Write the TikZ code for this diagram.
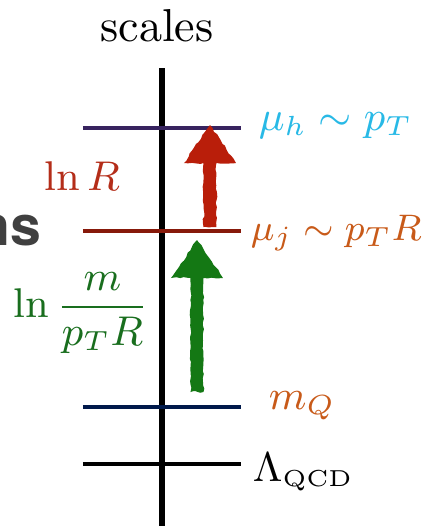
\documentclass[tikz,border=0pt]{standalone}
\usepackage{fontspec}
\usepackage{amsmath}
\newfontfamily\heros{TeX Gyre Heros}
\usetikzlibrary{decorations.pathmorphing}

\definecolor{hardblue}{RGB}{40,185,230}
\definecolor{jetorange}{RGB}{200,90,25}
\definecolor{lnred}{RGB}{180,45,25}
\definecolor{lngreen}{RGB}{25,110,30}
\definecolor{arrred}{RGB}{185,30,10}
\definecolor{arrgreen}{RGB}{20,120,20}
\definecolor{hardline}{RGB}{55,35,95}
\definecolor{jetline}{RGB}{135,25,10}
\definecolor{massline}{RGB}{0,25,75}

% chalk arrow: x, tail y, tip y, head base y, colour
\newcommand{\chalkarrow}[5]{%
  \fill[#5, decorate, decoration={random steps, segment length=0.8pt, amplitude=0.2pt}]
    (#1-6.5,#2) -- (#1-6.5,#4) -- (#1-26,#4) -- (#1,#3) -- (#1+26,#4)
    -- (#1+6.5,#4) -- (#1+6.5,#2) -- cycle;}

\begin{document}
\begin{tikzpicture}[x=0.2166pt, y=-0.2166pt,
    level/.style={line width=0.9pt},
    lab/.style={anchor=west, inner sep=0pt, font=\small}]
    \clip (0,0) rectangle (426,526);

    % Axis
    \node (scl) at (157,26) {scales};
    \coordinate (axtop) at (162,68);
    \coordinate (axbot) at (162,526);
    \draw[line width=1.15pt] (axtop) -- (axbot);

    % Scale levels
    \draw[level, hardline] (83,128) -- (241,128);
    \draw[level, jetline] (83,231) -- (241,231);
    \draw[level, massline] (83,407) -- (241,407);
    \draw[level, black] (83,464) -- (241,464);

    % Scale labels
    \node[lab, hardblue] (muh) at (258,126) {$\mu_h\sim p_T$};
    \node[lab, jetorange, font=\fontsize{8.5}{10}\selectfont] (muj) at (250,233) {$\mu_j\sim p_TR$};
    \node[lab, jetorange] (mq) at (268,406) {$m_Q$};
    \node[lab] (lqcd) at (252,472) {$\Lambda_{\scriptscriptstyle\mathrm{QCD}}$};

    % Logs between levels
    \node[lnred, font=\small] (lnr) at (82,176) {$\ln R$};
    \node[lngreen, font=\small] (lnm) at (81,313) {$\ln\dfrac{m}{p_TR}$};

    % Evolution arrows
    \chalkarrow{210}{227}{125}{163}{arrred}
    \chalkarrow{197}{392}{240}{278}{arrgreen}

    % clipped slide text
    \node[anchor=east, inner sep=0pt, text=black!75] (ns) at (42,231) {\heros\bfseries\large ns};
\end{tikzpicture}
\end{document}
